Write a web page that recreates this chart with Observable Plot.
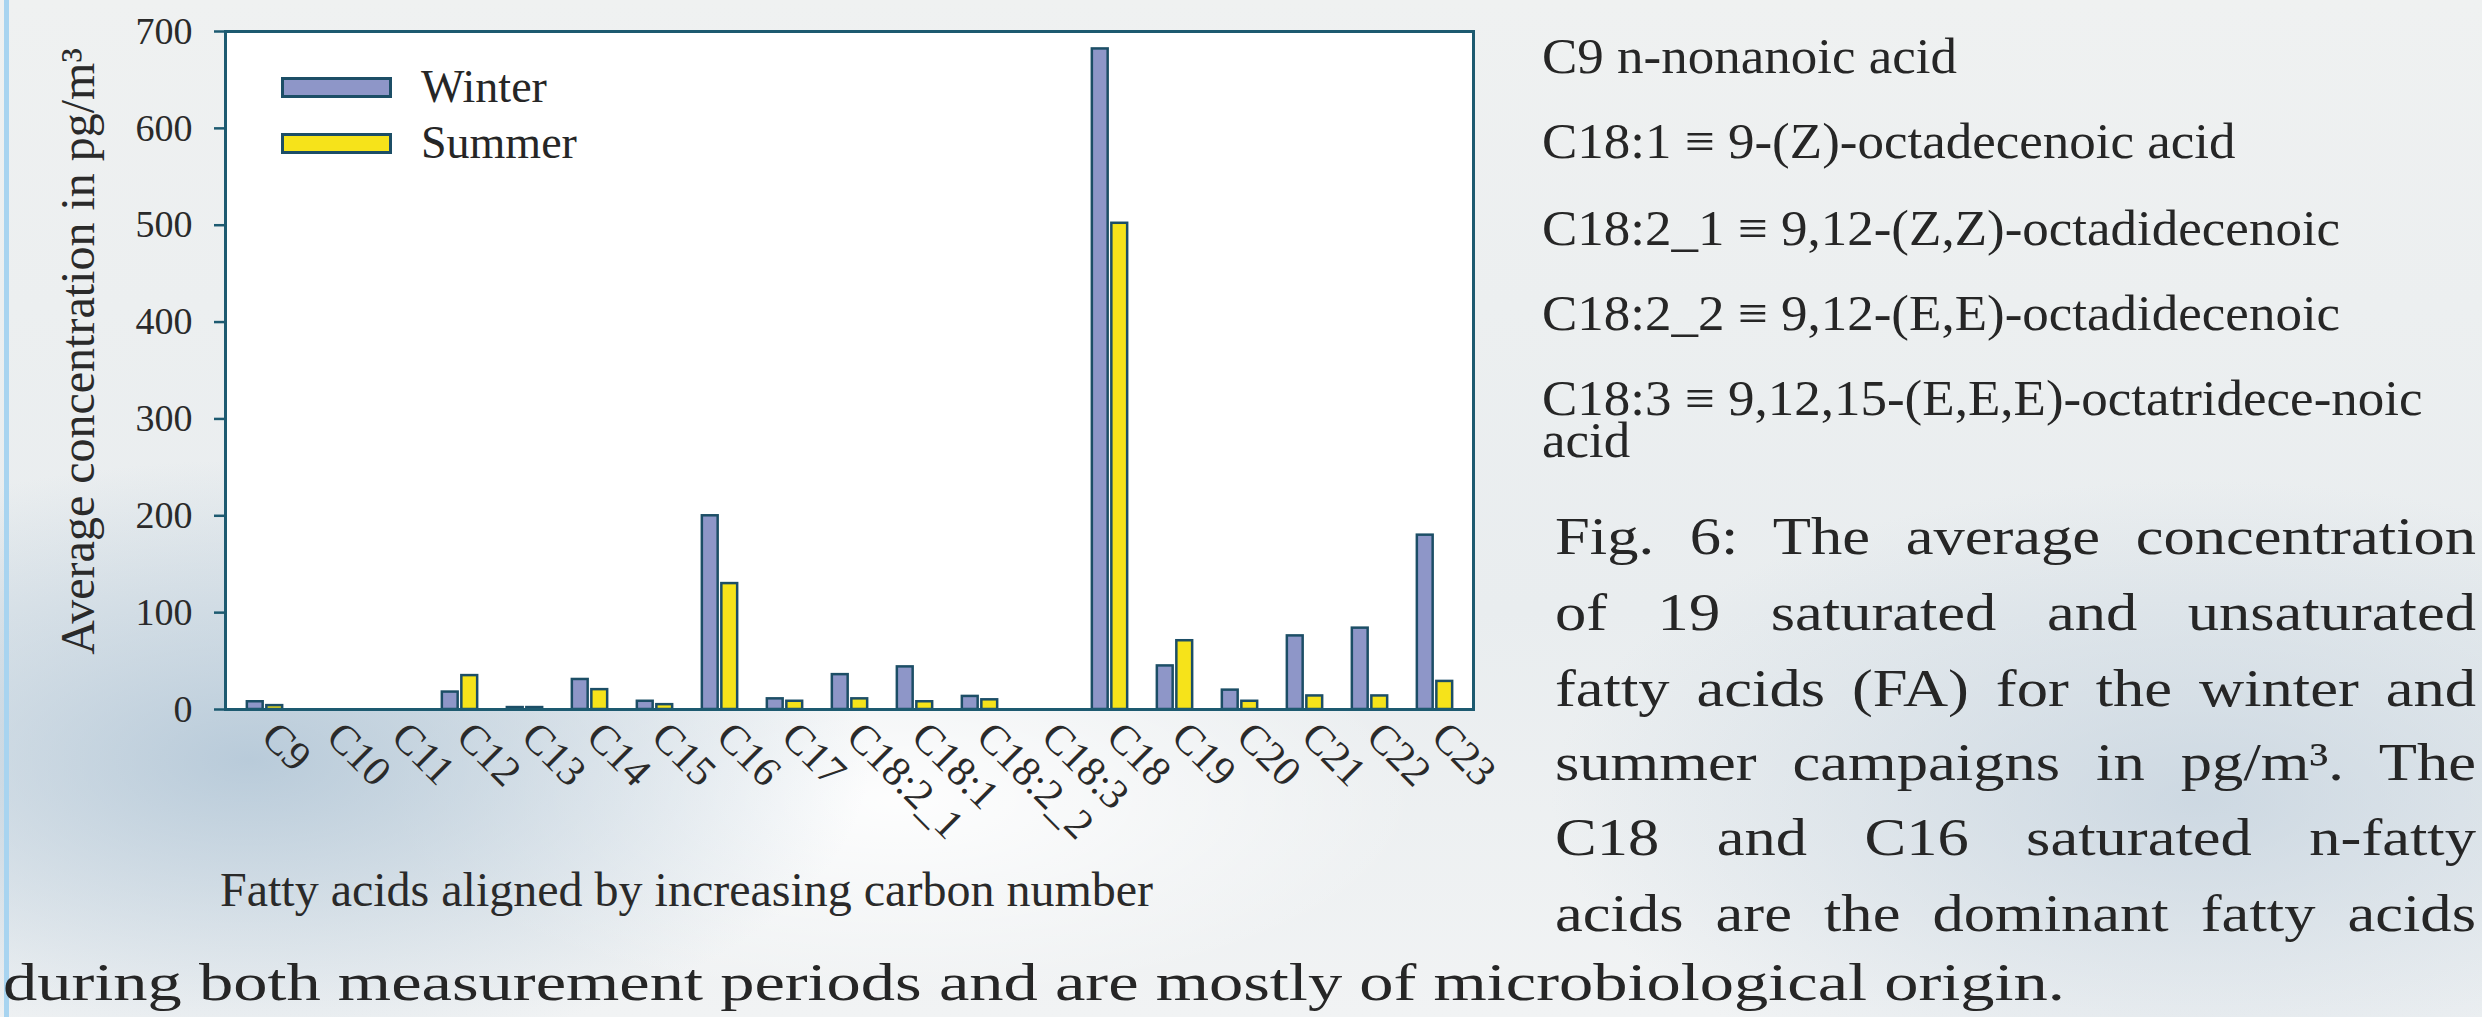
<!DOCTYPE html>
<html>
<head>
<meta charset="utf-8">
<script src="https://cdn.jsdelivr.net/npm/d3@7"></script>
<script src="https://cdn.jsdelivr.net/npm/@observablehq/plot@0.6"></script>
<style>
html, body { margin: 0; padding: 0; }
#page {
  position: relative; width: 2482px; height: 1017px; overflow: hidden;
  font-family: "Liberation Serif", "Times New Roman", serif; color: #262626;
  background:
    radial-gradient(ellipse 620px 300px at 250px 760px, rgba(172,194,212,0.8), rgba(172,194,212,0) 100%),
    radial-gradient(ellipse 650px 320px at 2200px 800px, rgba(188,204,218,0.65), rgba(188,204,218,0) 100%),
    radial-gradient(ellipse 520px 200px at 900px 800px, rgba(255,255,255,0.9), rgba(255,255,255,0) 100%),
    linear-gradient(180deg, #eff1f1 0%, #e9edef 60%, #f1f3f4 100%);
}
#edge { position: absolute; left: 4px; top: 0; width: 5px; height: 1017px; background: #a8d4f0; }
#chart { position: absolute; left: 0; top: 0; }
.t { position: absolute; white-space: nowrap; line-height: 0.85; transform-origin: 0 0; }
.cap { position: absolute; line-height: 0.85; white-space: nowrap; text-align: justify; text-align-last: justify; transform-origin: 0 0; }
.sw { position: absolute; box-sizing: border-box; border: 3px solid #1c4e66; }
</style>
</head>
<body>
<div id="page"><div id="edge"></div><div id="chart"></div></div>
<script>
// ---- data ----
const categories = ["C9","C10","C11","C12","C13","C14","C15","C16","C17","C18:2_1","C18:1","C18:2_2","C18:3","C18","C19","C20","C21","C22","C23"];
const winter = [8, 0, 0, 18, 2, 31, 8.5, 200, 11, 36, 44, 13.5, 0, 682, 45, 20, 76, 84, 180];
const summer = [4, 0, 0, 35, 2, 20.5, 5, 130, 8.5, 11, 8, 10, 0, 502, 71, 8.5, 14, 14, 29];
const seasons = ["Winter", "Summer"];
const yTicks = [0, 100, 200, 300, 400, 500, 600, 700];
const yLabel = "Average concentration in pg/m³";
const xLabel = "Fatty acids aligned by increasing carbon number";
const notes = [
  "C9 n-nonanoic acid",
  "C18:1 ≡ 9-(Z)-octadecenoic acid",
  "C18:2_1 ≡ 9,12-(Z,Z)-octadidecenoic",
  "C18:2_2 ≡ 9,12-(E,E)-octadidecenoic",
  "C18:3 ≡ 9,12,15-(E,E,E)-octatridece-noic\nacid"
];
const captionLines = [
  "Fig. 6: The average concentration",
  "of 19 saturated and unsaturated",
  "fatty acids (FA) for the winter and",
  "summer campaigns in pg/m³. The",
  "C18 and C16 saturated n-fatty",
  "acids are the dominant fatty acids"
];
const captionLast = "during both measurement periods and are mostly of microbiological origin.";

// ---- styles ----
const fillW = "#8e96c8", fillS = "#f6e31a", barStroke = "#1c4e66", axisColor = "#1d5a70";

const rows = categories.flatMap((c, i) => [
  {cat: c, season: seasons[0], v: winter[i]},
  {cat: c, season: seasons[1], v: summer[i]}
]);

const W = 1500, H = 960;
const mL = 225, mR = W - 1473, mT = 31, mB = H - 709;
const bw = (W - mL - mR) / categories.length;
const half = bw / 2;

const chart = Plot.plot({
  width: W, height: H,
  marginLeft: mL, marginRight: mR, marginTop: mT, marginBottom: mB,
  style: {background: "transparent", fontFamily: "'Liberation Serif', 'Times New Roman', serif", color: "#2a2a2a", overflow: "visible"},
  x: {domain: categories, padding: 0},
  y: {domain: [0, 700]},
  color: {domain: seasons, range: [fillW, fillS]},
  marks: [
    Plot.frame({fill: "white", stroke: null}),
    Plot.barY(rows.filter(d => d.season === "Winter"), {x: "cat", y: "v", fill: "season", stroke: barStroke, strokeWidth: 2.5, insetLeft: half - 18, insetRight: half + 1.5}),
    Plot.barY(rows.filter(d => d.season === "Summer"), {x: "cat", y: "v", fill: "season", stroke: barStroke, strokeWidth: 2.5, insetLeft: half + 1.5, insetRight: half - 18}),
    Plot.frame({stroke: axisColor, strokeWidth: 3}),
    Plot.axisY(yTicks, {tickSize: 11, tickPadding: 22, fontSize: 38, stroke: axisColor, strokeWidth: 2.5, label: null}),
    Plot.axisX({tickSize: 0, tickRotate: 45, tickPadding: 20, fontSize: 42, dx: 4, label: null}),
    Plot.text([yLabel], {text: d => d, frameAnchor: "left", textAnchor: "middle", rotate: -90, lineAnchor: "bottom", dx: -132, dy: -19, fontSize: 48, fill: "#2a2a2a"}),
    Plot.text([xLabel], {text: d => d, frameAnchor: "bottom", textAnchor: "middle", lineAnchor: "bottom", dx: -163, dy: 196, fontSize: 48, fill: "#2a2a2a"})
  ]
});
document.getElementById("chart").appendChild(chart);

const page = document.getElementById("page");
const LH = 0.85, baseOff = LH / 2 + 0.3375; // baseline offset from box top, in em
function addText(txt, left, baseline, fs, scale) {
  const d = document.createElement("div");
  d.className = "t"; d.textContent = txt;
  d.style.fontSize = fs + "px";
  d.style.left = left + "px";
  d.style.top = (baseline - baseOff * fs) + "px";
  if (scale) d.style.transform = `scaleX(${scale})`;
  page.appendChild(d);
  return d;
}

// legend (inside the frame)
const legendItems = [
  {label: seasons[0], fill: fillW, top: 77},
  {label: seasons[1], fill: fillS, top: 133}
];
legendItems.forEach(it => {
  const s = document.createElement("div");
  s.className = "sw";
  Object.assign(s.style, {left: "281px", top: it.top + "px", width: "111px", height: "21px", background: it.fill});
  page.appendChild(s);
  addText(it.label, 421, it.top + 25, 46, 1.0);
});

// notes on the right (last note wraps onto a second line)
const noteBase = [73, 158, 245, 330, 415];
notes.forEach((n, i) => {
  const d = addText(n, 1542, noteBase[i], 50, 1.06);
  if (n.includes("\n")) {
    d.style.whiteSpace = "pre";
    d.style.lineHeight = "42px";
    d.style.top = (noteBase[i] - 37.9) + "px";
  }
});

// caption, justified
const capBase = [554, 630, 706, 780, 855, 931];
const capScale = 1.18, capFs = 53;
captionLines.forEach((l, i) => {
  const d = document.createElement("div");
  d.className = "cap"; d.textContent = l;
  Object.assign(d.style, {left: "1555px", top: (capBase[i] - baseOff * capFs) + "px", width: (921 / capScale) + "px", fontSize: capFs + "px", transform: `scaleX(${capScale})`});
  page.appendChild(d);
});
const last = addText(captionLast, 3, 1000, capFs);
const lw = last.getBoundingClientRect().width;
last.style.transform = `scaleX(${(2065 - 3) / lw})`;
</script>
</body>
</html>
